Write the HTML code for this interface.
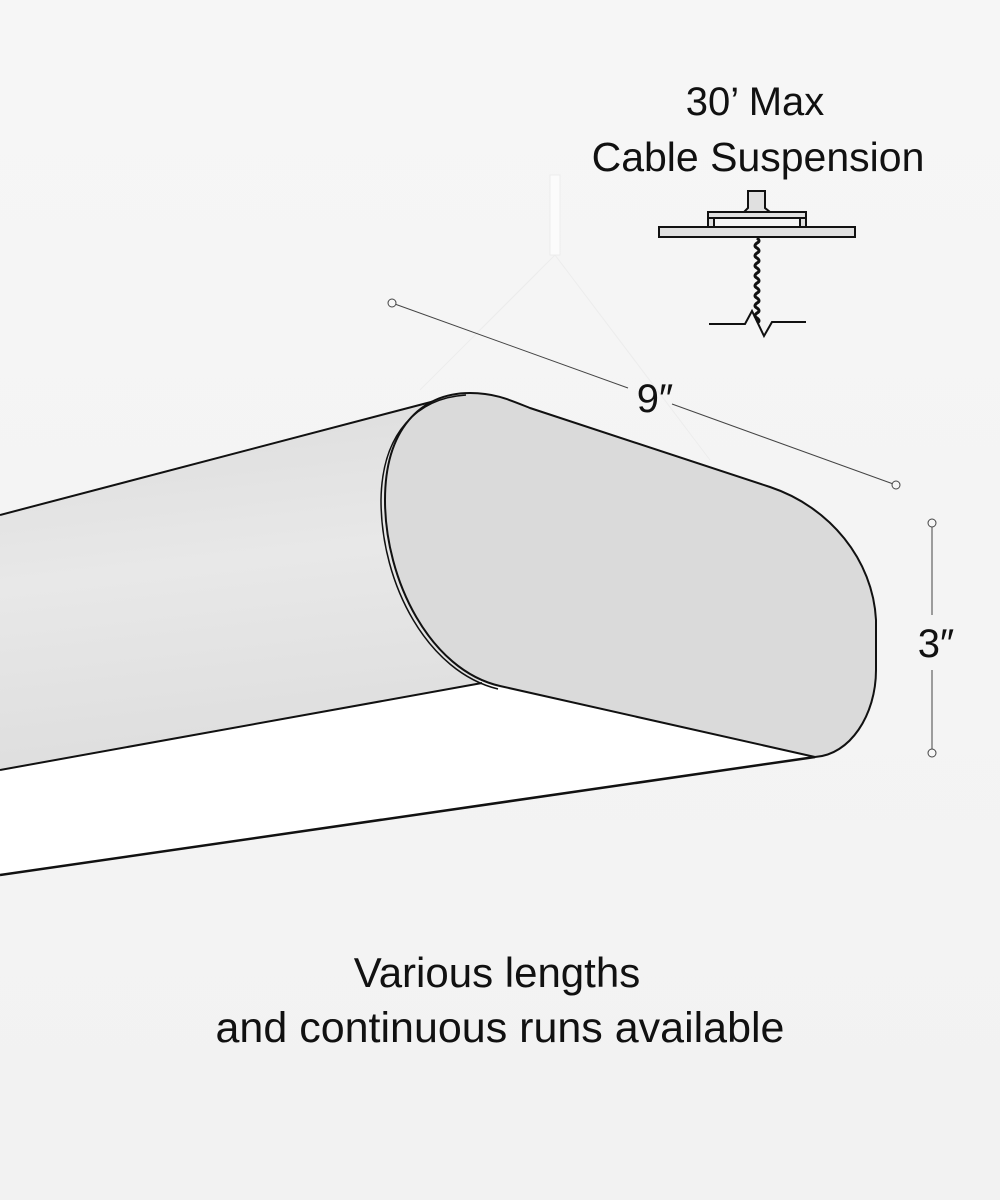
<!DOCTYPE html>
<html><head><style>
html,body{margin:0;padding:0;background:#f4f4f4;}
svg{display:block;}
text{font-family:"Liberation Sans",sans-serif;fill:#111;}
</style></head><body>
<svg width="1000" height="1200" viewBox="0 0 1000 1200" xmlns="http://www.w3.org/2000/svg">
<defs>
<linearGradient id="bg" x1="0" y1="0" x2="0" y2="1">
<stop offset="0" stop-color="#f6f6f6"/><stop offset="1" stop-color="#f2f2f2"/></linearGradient>
<linearGradient id="body" x1="0" y1="0" x2="0.15" y2="1">
<stop offset="0" stop-color="#dcdcdc"/><stop offset="0.5" stop-color="#e8e8e8"/><stop offset="1" stop-color="#dedede"/></linearGradient>
</defs>
<rect width="1000" height="1200" fill="url(#bg)"/>
<rect x="550" y="175" width="10" height="80" fill="#fbfbfb" stroke="#ececec"/>
<line x1="555" y1="255" x2="420" y2="390" stroke="#ececec" stroke-width="1"/>
<line x1="555" y1="255" x2="710" y2="460" stroke="#ececec" stroke-width="1"/>
<path d="M0 515 L450 397 L480 683 L0 770 Z" fill="url(#body)"/>
<path d="M0 770 L480 683 L815 757 L0 875 Z" fill="#ffffff"/>
<line x1="0" y1="515" x2="450" y2="397" stroke="#111" stroke-width="2"/>
<line x1="0" y1="770" x2="482" y2="683" stroke="#111" stroke-width="2"/>
<line x1="0" y1="875" x2="815" y2="757" stroke="#111" stroke-width="2.5"/>
<path d="M470 393 C495 393 510 400 530 408 L770 487 C830 507 873 560 876 620 L876 670 C876 715 850 755 815 757 L500 686 C430 670 385 580 385 500 C385 430 420 393 470 393 Z" fill="#dadada" stroke="#111" stroke-width="2"/>
<path d="M466 395 C418 398 382 432 381 500 C381 585 428 672 498 689" fill="none" stroke="#111" stroke-width="1.5"/>
<line x1="392" y1="303" x2="628" y2="388" stroke="#444" stroke-width="1"/>
<line x1="672" y1="404" x2="896" y2="485" stroke="#444" stroke-width="1"/>
<circle cx="392" cy="303" r="4" fill="#f6f6f6" stroke="#444"/>
<circle cx="896" cy="485" r="4" fill="#f6f6f6" stroke="#444"/>
<text x="655" y="412" font-size="40" text-anchor="middle">9″</text>
<line x1="932" y1="527" x2="932" y2="615" stroke="#444" stroke-width="1"/>
<line x1="932" y1="670" x2="932" y2="749" stroke="#444" stroke-width="1"/>
<circle cx="932" cy="523" r="4" fill="#f6f6f6" stroke="#444"/>
<circle cx="932" cy="753" r="4" fill="#f6f6f6" stroke="#444"/>
<text x="936" y="657" font-size="40" text-anchor="middle">3″</text>
<text x="755" y="115" font-size="40" text-anchor="middle">30’ Max</text>
<text x="758" y="171" font-size="41" text-anchor="middle">Cable Suspension</text>
<g stroke="#111" stroke-width="2" fill="#e0e0e0">
<path d="M748 191 L765 191 L765 208 L770 212 L744 212 L748 208 Z"/>
<rect x="708" y="212" width="98" height="6"/>
<rect x="708" y="218" width="6" height="9"/>
<rect x="800" y="218" width="6" height="9"/>
<rect x="659" y="227" width="196" height="10"/>
</g>
<path d="M757 238 q4 3 0 5 q-4 3 0 5 q4 3 0 5 q-4 3 0 5 q4 3 0 5 q-4 3 0 5 q4 3 0 5 q-4 3 0 5 q4 3 0 5 q-4 3 0 5 q4 3 0 5 q-4 3 0 5 q4 3 0 5 q-4 3 0 5 q4 3 0 5 q-4 3 0 5 q4 3 0 5" fill="none" stroke="#111" stroke-width="3"/>
<path d="M709 324 L745 324 L752 311 L764 336 L772 322 L806 322" fill="none" stroke="#111" stroke-width="2"/>
<text x="497" y="987" font-size="42" text-anchor="middle">Various lengths</text>
<text x="500" y="1042" font-size="43" text-anchor="middle">and continuous runs available</text>
</svg>
</body></html>
